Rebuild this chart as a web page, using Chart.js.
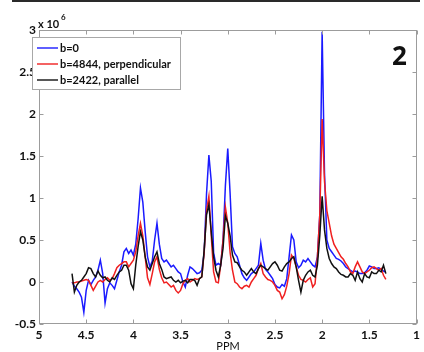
<!DOCTYPE html>
<html>
<head>
<meta charset="utf-8">
<script src="https://cdn.jsdelivr.net/npm/chart.js@4.4.0/dist/chart.umd.min.js"></script>
<style>
    html, body { margin: 0; padding: 0; background: #fff; }
    #wrap { position: relative; width: 424px; height: 352px; }
    #strip { position: absolute; left: 12px; top: 0; width: 408px; height: 2px; background: #2a2a2a; }
</style>
</head>
<body>
<div id="wrap">
    <canvas id="chart" width="424" height="352"></canvas>
    <div id="strip"></div>
</div>
<script>
// chemical shift (ppm), values in units of 1e6
const ppm = [
    4.65, 4.625, 4.6, 4.575, 4.55, 4.525, 4.5, 4.475, 4.45, 4.425,
    4.4, 4.375, 4.35, 4.325, 4.3, 4.275, 4.25, 4.225, 4.2, 4.175,
    4.15, 4.125, 4.1, 4.075, 4.05, 4.025, 4.0, 3.975, 3.95, 3.925,
    3.9, 3.875, 3.85, 3.825, 3.8, 3.775, 3.75, 3.725, 3.7, 3.675,
    3.65, 3.625, 3.6, 3.575, 3.55, 3.525, 3.5, 3.475, 3.45, 3.425,
    3.4, 3.375, 3.35, 3.325, 3.3, 3.275, 3.25, 3.225, 3.2, 3.175,
    3.15, 3.125, 3.1, 3.075, 3.05, 3.025, 3.0, 2.975, 2.95, 2.925,
    2.9, 2.875, 2.85, 2.825, 2.8, 2.775, 2.75, 2.725, 2.7, 2.675,
    2.65, 2.625, 2.6, 2.575, 2.55, 2.525, 2.5, 2.475, 2.45, 2.425,
    2.4, 2.375, 2.35, 2.325, 2.3, 2.275, 2.25, 2.225, 2.2, 2.175,
    2.15, 2.125, 2.1, 2.075, 2.05, 2.025, 2.0, 1.975, 1.95, 1.925,
    1.9, 1.875, 1.85, 1.825, 1.8, 1.775, 1.75, 1.725, 1.7, 1.675,
    1.65, 1.625, 1.6, 1.575, 1.55, 1.525, 1.5, 1.475, 1.45, 1.425,
    1.4, 1.375, 1.35, 1.325
];

const b0 = [
    0.0, -0.05, -0.08, -0.12, -0.18, -0.36, -0.1, 0.02, -0.03, 0.02,
    0.06, 0.14, 0.26, 0.1, -0.25, -0.08, -0.01, -0.04, -0.08, 0.02,
    0.12, 0.2, 0.36, 0.40, 0.34, 0.38, 0.32, 0.45, 0.75, 1.12,
    0.95, 0.6, 0.3, 0.18, 0.25, 0.5, 0.70, 0.45, 0.28, 0.24,
    0.26, 0.22, 0.18, 0.2, 0.16, 0.12, 0.1, 0.0, -0.06, 0.08,
    0.18, 0.16, 0.13, 0.1, 0.11, 0.14, 0.35, 1.05, 1.51, 1.2,
    0.35, 0.2, 0.22, 0.2, 0.5, 1.15, 1.59, 1.05, 0.42, 0.34,
    0.3, 0.2, 0.1, 0.05, 0.02, 0.06, 0.1, 0.12, 0.16, 0.2,
    0.46, 0.26, 0.15, 0.12, 0.08, 0.04, -0.03, -0.06, -0.07, -0.03,
    -0.05, 0.04, 0.3, 0.56, 0.5, 0.24, 0.17, 0.2, 0.26, 0.24,
    0.28, 0.24, 0.2, 0.18, 0.3, 0.8, 2.98, 1.3, 0.5, 0.4,
    0.36, 0.32, 0.28, 0.27, 0.25, 0.22, 0.18, 0.16, 0.14, 0.12,
    0.13, 0.12, 0.1, 0.1, 0.11, 0.14, 0.19, 0.18, 0.16, 0.16,
    0.17, 0.15, 0.13, 0.12
];

const bPerp = [
    -0.01, -0.01, 0.0, 0.0, 0.01, 0.02, 0.03, 0.02, -0.04, -0.1,
    -0.05, 0.0, 0.02, 0.0, 0.03, 0.05, 0.02, 0.04, 0.1, 0.17,
    0.2, 0.22, 0.24, 0.24, 0.18, 0.22, 0.26, 0.36, 0.55, 0.70,
    0.55, 0.3, 0.05, -0.03, 0.1, 0.24, 0.30, 0.15, 0.05, -0.01,
    0.0, -0.03, -0.06, -0.04, -0.1, -0.13, -0.1, -0.02, 0.02, 0.04,
    0.0, 0.02, 0.04, 0.03, 0.04, 0.06, 0.35, 0.85, 1.02, 0.55,
    0.12, 0.0, -0.01, 0.2, 0.5, 0.89, 0.7, 0.35, 0.14, 0.0,
    -0.02, -0.06, -0.08, -0.05, -0.04, -0.06, 0.0, 0.04, 0.08, 0.16,
    0.22, 0.1, 0.06, 0.03, 0.02, 0.0, -0.04, -0.1, -0.12, -0.2,
    -0.15, -0.05, 0.1, 0.32, 0.28, 0.18, 0.08, 0.03, 0.02, 0.0,
    0.03, 0.05, -0.06, -0.02, 0.3, 0.8, 1.94, 1.2, 0.85, 0.7,
    0.55, 0.45, 0.4, 0.35, 0.3, 0.27, 0.22, 0.18, 0.12, 0.1,
    0.18, 0.24, 0.18, 0.12, 0.1, 0.12, 0.14, 0.17, 0.18, 0.16,
    0.14, 0.16, 0.08, 0.03
];

const bPar = [
    0.1, -0.12, -0.04, 0.0, 0.02, 0.06, 0.1, 0.17, 0.16, 0.1,
    0.06, 0.13, 0.08, 0.05, 0.06, 0.02, 0.0, 0.05, 0.03, 0.08,
    0.12, 0.14, 0.2, 0.2, 0.14, -0.02, -0.08, 0.2, 0.42, 0.60,
    0.5, 0.3, 0.18, 0.14, 0.22, 0.3, 0.36, 0.22, 0.15, 0.06,
    0.04, 0.05, 0.06, 0.02, 0.0, 0.02, -0.01, 0.01, 0.02, -0.01,
    0.03, 0.03, 0.02, -0.04, 0.04, 0.06, 0.38, 0.8, 0.92, 0.6,
    0.3, 0.14, 0.06, 0.2, 0.4, 0.79, 0.7, 0.55, 0.32, 0.24,
    0.23, 0.18, 0.14, 0.12, 0.08, 0.12, 0.16, 0.12, 0.1, 0.16,
    0.2, 0.18, 0.16, 0.14, 0.18, 0.22, 0.24, 0.2, 0.14, 0.13,
    0.18, 0.22, 0.24, 0.28, 0.3, 0.18, 0.02, -0.12, 0.02, 0.08,
    0.12, 0.14, 0.08, 0.06, 0.2, 0.55, 1.02, 0.62, 0.4, 0.28,
    0.22, 0.18, 0.16, 0.12, 0.09, 0.08, 0.06, 0.06, 0.1, 0.08,
    0.02, 0.12, 0.04, 0.0, 0.1, 0.06, 0.05, 0.12, 0.1, 0.1,
    0.14, 0.12, 0.2, 0.1
];

const seriesLabels = ['b=0', 'b=4844, perpendicular', 'b=2422, parallel'];
const seriesColors = ['#1a1aff', '#f02020', '#111111'];

const xMin = 1, xMax = 5, xStep = 0.5;
const yMin = -0.5, yMax = 3, yStep = 0.5;

const tickFont = { family: 'Lato', size: 12, weight: 'bold' };

function toPoints(vals) {
    return ppm.map((x, i) => ({ x: x, y: vals[i] }));
}

const frame = {
    id: 'frame',
    afterDraw(chart) {
        const ctx = chart.ctx;
        const a = chart.chartArea;
        const xs = chart.scales.x, ys = chart.scales.y;
        const L = Math.round(a.left) + 0.5, R = Math.round(a.right) - 0.5;
        const T = Math.round(a.top) + 0.5, B = Math.round(a.bottom) - 0.5;

        ctx.save();
        ctx.strokeStyle = '#9c9c9c';
        ctx.lineWidth = 1;
        ctx.strokeRect(L, T, R - L, B - T);

        // inward ticks on all four sides
        ctx.beginPath();
        xs.ticks.forEach(t => {
            const px = Math.round(xs.getPixelForValue(t.value)) + 0.5;
            ctx.moveTo(px, B); ctx.lineTo(px, B - 4);
            ctx.moveTo(px, T); ctx.lineTo(px, T + 4);
        });
        ys.ticks.forEach(t => {
            const py = Math.round(ys.getPixelForValue(t.value)) + 0.5;
            ctx.moveTo(L, py); ctx.lineTo(L + 4, py);
            ctx.moveTo(R, py); ctx.lineTo(R - 4, py);
        });
        ctx.stroke();

        // legend box
        const lx = 32.5, ly = 37.5, lw = 148, lh = 52;
        ctx.fillStyle = '#fff';
        ctx.fillRect(lx, ly, lw, lh);
        ctx.strokeStyle = '#a8a8a8';
        ctx.strokeRect(lx, ly, lw, lh);
        ctx.font = 'bold 11px Lato';
        ctx.textBaseline = 'middle';
        seriesLabels.forEach((lab, i) => {
            const y = 48 + i * 16;
            ctx.strokeStyle = seriesColors[i];
            ctx.lineWidth = 1.4;
            ctx.beginPath();
            ctx.moveTo(37, y);
            ctx.lineTo(58, y);
            ctx.stroke();
            ctx.fillStyle = '#111';
            ctx.fillText(lab, 60, y);
        });

        // exponent, panel number, axis name
        ctx.fillStyle = '#111';
        ctx.textBaseline = 'alphabetic';
        ctx.font = 'bold 11px Lato';
        ctx.fillText('x 10', 38, 28);
        ctx.font = 'bold 8px Lato';
        ctx.fillText('6', 61, 20);
        ctx.font = 'bold 26px "Open Sans"';
        ctx.fillText('2', 392, 65);
        ctx.font = '11px Lato';
        ctx.textAlign = 'center';
        ctx.fillText('PPM', 228, 350);
        ctx.restore();
    }
};

new Chart(document.getElementById('chart'), {
    type: 'line',
    data: {
        datasets: [
            { label: seriesLabels[0], data: toPoints(b0), borderColor: seriesColors[0], order: 3 },
            { label: seriesLabels[1], data: toPoints(bPerp), borderColor: seriesColors[1], order: 2 },
            { label: seriesLabels[2], data: toPoints(bPar), borderColor: seriesColors[2], order: 1 }
        ]
    },
    options: {
        responsive: false,
        animation: false,
        layout: {
            padding: {
                left: 0,
                right: 5,
                top: 30,
                bottom: 0
            }
        },
        elements: {
            point: { radius: 0 },
            line: { borderWidth: 1.5, tension: 0 }
        },
        plugins: {
            legend: { display: false },
            tooltip: { enabled: false }
        },
        scales: {
            x: {
                type: 'linear',
                reverse: true,
                min: xMin,
                max: xMax,
                grid: { display: false, drawTicks: false },
                border: { display: false },
                ticks: {
                    stepSize: xStep,
                    padding: 4,
                    maxRotation: 0,
                    color: '#111',
                    font: tickFont,
                    callback: v => String(v)
                },
                afterFit: s => { s.height = 28; }
            },
            y: {
                min: yMin,
                max: yMax,
                grid: { display: false, drawTicks: false },
                border: { display: false },
                ticks: {
                    stepSize: yStep,
                    padding: 3,
                    color: '#111',
                    font: tickFont,
                    callback: v => String(v)
                },
                afterFit: s => { s.width = 39; }
            }
        }
    },
    plugins: [frame]
});
</script>
</body>
</html>
